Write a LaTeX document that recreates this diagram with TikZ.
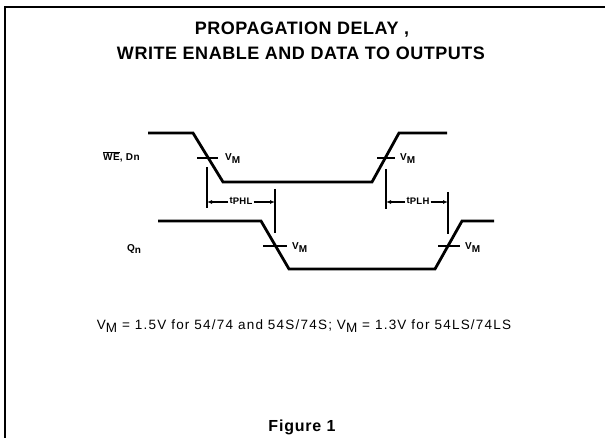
\documentclass[tikz,border=0pt]{standalone}
\usepackage{fontspec}
\setmainfont{Liberation Sans}
\usetikzlibrary{arrows.meta}
\newcommand{\spaced}[1]{\addfontfeatures{LetterSpace=#1}}
\begin{document}
\begin{tikzpicture}[x=1pt,y=-1pt,
  wave/.style={line width=2.8pt,line join=miter},
  tickbar/.style={line width=1.4pt},
  dimline/.style={line width=1.2pt},
  dimarrow/.style={line width=1.1pt,-{Latex[length=5pt,width=4pt]}},
  sig/.style={font=\bfseries\fontsize{10}{11}\selectfont\spaced{5},inner sep=0pt},
  vm/.style={font=\bfseries\fontsize{10}{11}\selectfont\spaced{3},inner sep=0pt,anchor=base west},
  tlab/.style={font=\bfseries\fontsize{9.5}{10}\selectfont\spaced{3},inner sep=1pt},
  titletext/.style={font=\bfseries\fontsize{18}{20}\selectfont\spaced{3}},
  frame/.style={line width=1.8pt}]
\useasboundingbox (0,0) rectangle (605,438);
% frame
\coordinate (fbl) at (5,438);
\coordinate (ftl) at (5,7);
\coordinate (ftr) at (605,7);
\draw[frame] (fbl) -- (ftl) -- (ftr);
% titles
\node[titletext] (t1) at (302,30) {PROPAGATION DELAY ,};
\node[titletext] (t2) at (301,53) {WRITE ENABLE AND DATA TO OUTPUTS};
% signal labels
\node[sig,anchor=west] (we) at (103,157) {$\overline{\hbox{WE}}$, Dn};
\node[sig,anchor=west] (qn) at (127,249) {Q\raisebox{-1.5pt}{n}};
% WE/Dn waveform
\coordinate (a0) at (148,133);
\coordinate (a1) at (193,133);
\coordinate (a2) at (223,182);
\coordinate (a3) at (372,182);
\coordinate (a4) at (399,133);
\coordinate (a5) at (447,133);
\draw[wave] (a0) -- (a1) -- (a2) -- (a3) -- (a4) -- (a5);
% Qn waveform
\coordinate (b0) at (158,221);
\coordinate (b1) at (261,221);
\coordinate (b2) at (289,269);
\coordinate (b3) at (435,269);
\coordinate (b4) at (462,221);
\coordinate (b5) at (494,221);
\draw[wave] (b0) -- (b1) -- (b2) -- (b3) -- (b4) -- (b5);
% VM ticks
\coordinate (k1l) at (197,158); \coordinate (k1r) at (218,158);
\coordinate (k2l) at (377,158); \coordinate (k2r) at (395,158);
\coordinate (k3l) at (263,246); \coordinate (k3r) at (287,246);
\coordinate (k4l) at (438,246); \coordinate (k4r) at (460,246);
\draw[tickbar] (k1l) -- (k1r);
\draw[tickbar] (k2l) -- (k2r);
\draw[tickbar] (k3l) -- (k3r);
\draw[tickbar] (k4l) -- (k4r);
\node[vm] (vm1) at (225,161) {V\raisebox{-2.2pt}{M}};
\node[vm] (vm2) at (400,161) {V\raisebox{-2.2pt}{M}};
\node[vm] (vm3) at (292,250) {V\raisebox{-2.2pt}{M}};
\node[vm] (vm4) at (465,250) {V\raisebox{-2.2pt}{M}};
% dimension verticals
\coordinate (v1t) at (207,167); \coordinate (v1b) at (207,208);
\coordinate (v2t) at (275,189); \coordinate (v2b) at (275,233);
\coordinate (v3t) at (386,169); \coordinate (v3b) at (386,209);
\coordinate (v4t) at (448,192); \coordinate (v4b) at (448,234);
\draw[dimline] (v1t) -- (v1b);
\draw[dimline] (v2t) -- (v2b);
\draw[dimline] (v3t) -- (v3b);
\draw[dimline] (v4t) -- (v4b);
% tPHL / tPLH
\node[tlab] (tphl) at (241,201) {t\raisebox{-1.8pt}{PHL}};
\node[tlab] (tplh) at (418,201) {t\raisebox{-1.8pt}{PLH}};
\coordinate (p1) at (207,202); \coordinate (p2) at (275,202);
\coordinate (p3) at (386,202); \coordinate (p4) at (448,202);
\draw[dimarrow] (tphl.west |- p1) -- (p1);
\draw[dimarrow] (tphl.east |- p2) -- (p2);
\draw[dimarrow] (tplh.west |- p3) -- (p3);
\draw[dimarrow] (tplh.east |- p4) -- (p4);
% note
\node[font=\fontsize{13.5}{15}\selectfont\spaced{9}] (note) at (304,326) {V\raisebox{-2.8pt}{M} = 1.5V for 54/74 and 54S/74S; V\raisebox{-2.8pt}{M} = 1.3V for 54LS/74LS};
\node[font=\bfseries\fontsize{16}{18}\selectfont\spaced{5}] (fig) at (302,427) {Figure 1};
\end{tikzpicture}
\end{document}
